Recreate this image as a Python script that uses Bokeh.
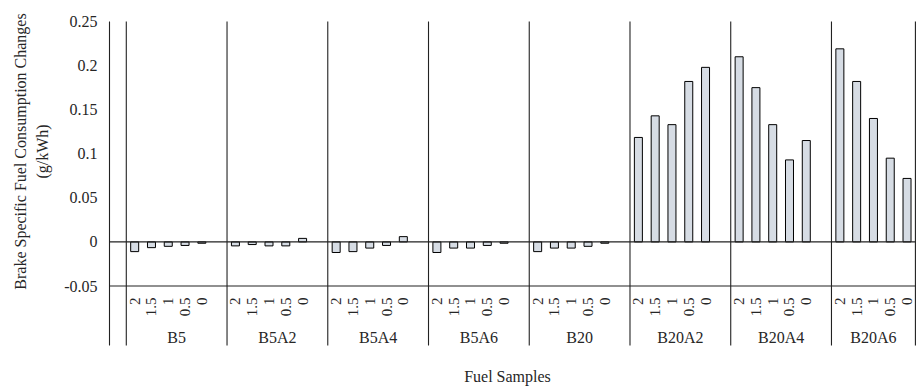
import math
from bokeh.plotting import figure
from bokeh.models import Range1d, ColumnDataSource
from bokeh.core.properties import value
from bokeh.embed import file_html
from bokeh.resources import INLINE

# ---- data ----
groups = ["B5", "B5A2", "B5A4", "B5A6", "B20", "B20A2", "B20A4", "B20A6"]
levels = ["2", "1.5", "1", "0.5", "0"]
b5 = [-0.011, -0.0065, -0.005, -0.004, -0.0015]
b5a2 = [-0.0045, -0.003, -0.0045, -0.0045, 0.004]
b5a4 = [-0.012, -0.011, -0.007, -0.004, 0.006]
b5a6 = [-0.012, -0.007, -0.007, -0.004, -0.0015]
b20 = [-0.011, -0.007, -0.007, -0.005, -0.0015]
b20a2 = [0.1185, 0.143, 0.133, 0.182, 0.198]
b20a4 = [0.210, 0.175, 0.133, 0.093, 0.115]
b20a6 = [0.219, 0.182, 0.140, 0.095, 0.072]
series = [b5, b5a2, b5a4, b5a6, b20, b20a2, b20a4, b20a6]
y_ticks = [0.25, 0.2, 0.15, 0.1, 0.05, 0, -0.05]
y_tick_labels = ["0.25", "0.2", "0.15", "0.1", "0.05", "0", "-0.05"]
y_title = ["Brake Specific Fuel Consumption Changes", "(g/kWh)"]
x_title = "Fuel Samples"

# ---- layout ----
W, H = 924, 389
SLOT = 16.79            # px per category slot
X0_PX = 109             # canvas x of the value axis
Y_TOP_PX = 21           # canvas y of 0.25
Y_BOT_PX = 285.5        # canvas y of -0.05
PPU = (Y_BOT_PX - Y_TOP_PX) / 0.30

x_start = -X0_PX / SLOT
x_end = x_start + W / SLOT
y_end = 0.25 + Y_TOP_PX / PPU
y_start = y_end - H / PPU

def xs(px):  # canvas px -> data x
    return x_start + px / SLOT

def ys(py):  # canvas px -> data y
    return y_end - py / PPU

FONT = value("Liberation Serif")
TXT = "#262626"

p = figure(width=W, height=H, x_range=Range1d(x_start, x_end), y_range=Range1d(y_start, y_end),
           x_axis_type=None, y_axis_type=None, output_backend="svg", toolbar_location=None,
           min_border=0)
p.outline_line_color = None
p.background_fill_color = "white"
p.border_fill_color = "white"

# category positions: one blank slot first, then 6 slots per group (5 bars + blank)
n_slots = 1 + 6 * len(groups) - 1
bx, btop, blab = [], [], []
for g, vals in enumerate(series):
    for k, v in enumerate(vals):
        bx.append(1 + 6 * g + k + 0.5)
        btop.append(v)
        blab.append(levels[k])

bars = ColumnDataSource(dict(x=bx, top=btop, lab=blab))
p.vbar(x="x", top="top", bottom=0, width=8 / SLOT, source=bars,
       fill_color="#d6dce4", line_color="black", line_width=1)

y_line_bottom = ys(345)
# vertical lines: value axis, first group edge, group separators, right edge
vx = [0, 1] + [1 + 6 * g for g in range(1, len(groups))] + [n_slots]
p.segment(x0=vx, y0=[0.25] * len(vx), x1=vx, y1=[y_line_bottom] * len(vx),
          line_color="#222222", line_width=1.1)
# horizontal lines at 0 and -0.05
p.segment(x0=[0, 0], y0=[0, -0.05], x1=[n_slots, n_slots], y1=[0, -0.05],
          line_color="#222222", line_width=1.1)

# y tick labels
p.text(x=[xs(97)] * len(y_ticks), y=y_ticks, text=y_tick_labels, text_align="right",
       text_baseline="middle", text_font=FONT, text_font_size="16px", text_color=TXT)

# y title (two lines, rotated)
p.text(x=[xs(20), xs(42)], y=[ys(151), ys(151)], text=y_title, angle=math.pi / 2,
       text_align="center", text_baseline="middle", text_font=FONT, text_font_size="16px",
       text_color=TXT)

# level tick labels (rotated)
p.text(x="x", y=ys(297), text="lab", source=bars, angle=math.pi / 2, text_align="right",
       text_baseline="middle", text_font=FONT, text_font_size="15px", text_color=TXT)

# group labels
gx = []
for g in range(len(groups)):
    left = 1 + 6 * g
    right = min(left + 6, n_slots)
    gx.append((left + right) / 2)
p.text(x=gx, y=[ys(337)] * len(groups), text=groups, text_align="center",
       text_baseline="middle", text_font=FONT, text_font_size="16px", text_color=TXT)

# x title
p.text(x=[xs(507)], y=[ys(376)], text=[x_title], text_align="center", text_baseline="middle",
       text_font=FONT, text_font_size="16px", text_color=TXT)

open("out.html", "w").write(file_html(p, INLINE))
